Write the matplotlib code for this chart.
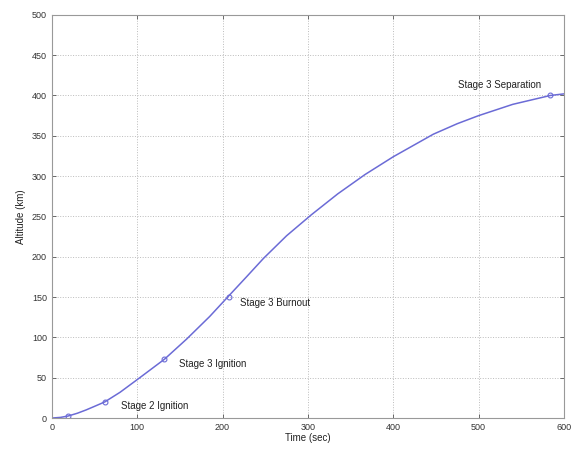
import numpy as np
import matplotlib.pyplot as plt

# trajectory
time_s = [0, 10, 19, 30, 40, 50, 62, 80, 103, 132, 158, 185, 206, 228, 248,
          275, 304, 335, 367, 400, 447, 475, 500, 540, 584, 600]
alt_km = [0, 0.8, 2.5, 6, 10, 14.5, 20, 32, 50, 73, 98, 126, 150, 175, 198,
          226, 252, 278, 302, 324, 352, 365, 375, 389, 400, 402]

# event markers
event_t = [19, 62, 132, 207, 584]
event_alt = [2.5, 20, 73, 150, 400]
event_labels = ['', 'Stage 2 Ignition', 'Stage 3 Ignition', 'Stage 3 Burnout',
                'Stage 3 Separation']
label_t = [None, 81, 149, 220, 476]
label_alt = [None, 15, 67, 143, 413]

plt.rcParams['font.family'] = ['Liberation Sans', 'DejaVu Sans']

fig = plt.figure(figsize=(5.76, 4.5), dpi=100)
ax = fig.add_axes([0.090, 0.071, 0.889, 0.896])

line_col = '#6b6bd6'
ax.plot(time_s, alt_km, '-', color=line_col, lw=1.1)
ax.plot(event_t, event_alt, 'o', color=line_col, mfc='none', ms=3.5, mew=0.8)

for lab, tx, ty in zip(event_labels, label_t, label_alt):
    if lab:
        ax.text(tx, ty, lab, fontsize=7, va='center', ha='left', color='#222222')

ax.set_xlim(0, 600)
ax.set_ylim(0, 500)
ax.set_xticks(np.arange(0, 601, 100))
ax.set_yticks(np.arange(0, 501, 50))
ax.tick_params(direction='in', top=True, right=True, labelsize=6.5,
               length=3, width=0.6, colors='#555555', labelcolor='#333333')
ax.grid(True, linestyle=':', color='#bbbbbb', lw=0.7)
for s in ax.spines.values():
    s.set_color('#999999')
    s.set_linewidth(0.8)

ax.set_xlabel('Time (sec)', fontsize=7, labelpad=1, color='#222222')
ax.set_ylabel('Altitude (km)', fontsize=7, labelpad=4, color='#222222')

fig.savefig('out.png', dpi=100)
